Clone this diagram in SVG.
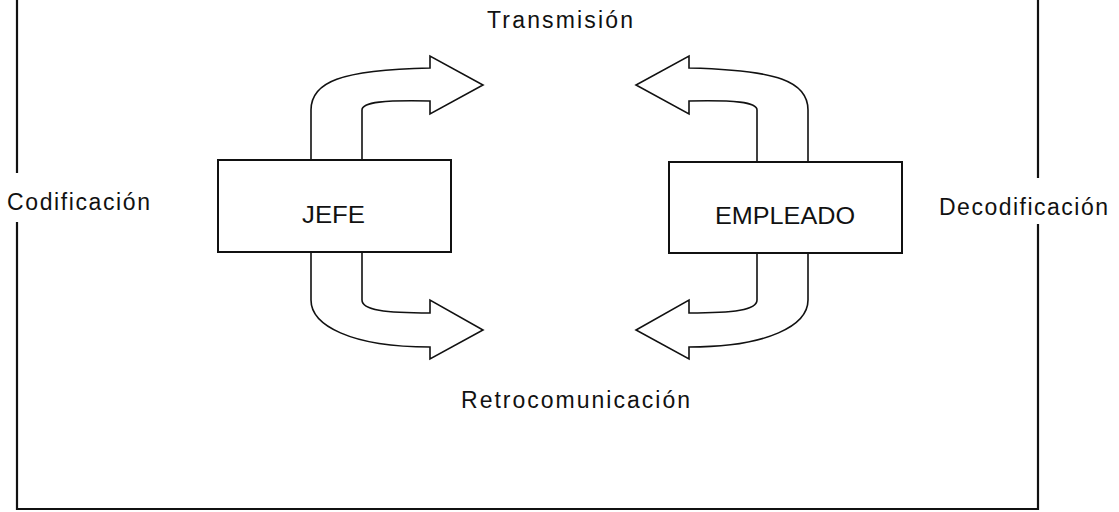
<svg xmlns="http://www.w3.org/2000/svg" width="1119" height="512" viewBox="0 0 1119 512">
<style>
.frame{fill:none;stroke:#111;stroke-width:2.2}
.arrow{fill:#fff;stroke:#111;stroke-width:1.6;stroke-linejoin:miter}
.box{fill:#fff;stroke:#111;stroke-width:2}
.lbl{font-family:"Liberation Sans",Arial,sans-serif;font-size:23px;fill:#111}
</style>
<rect width="1119" height="512" fill="#fff"/>
<g id="frame">
<path class="frame" d="M17,0 V173 M17,222 V509 H1038 V224 M1038,178 V0"/>
</g>
<g id="connectors">
<g id="arrows-jefe">
<path class="arrow" d="M311,160 V110 C311,82 340,70 430,68 V56 L483,85 L430,114 V101 C385,100 362,102 362,110 V160 Z"/>
<path class="arrow" d="M311,252 V300 C311,325 350,347 430,347 V359 L483,330 L430,300 V313 C385,313 362,310 362,300 V252 Z"/>
</g>
<g id="arrows-empleado" transform="translate(1119,0) scale(-1,1)">
<path class="arrow" d="M311,162 V110 C311,82 340,70 430,68 V56 L483,85 L430,114 V101 C385,100 362,102 362,110 V162 Z"/>
<path class="arrow" d="M311,253 V300 C311,325 350,347 430,347 V359 L483,330 L430,300 V313 C385,313 362,310 362,300 V253 Z"/>
</g>
</g>
<g id="jefe">
<rect class="box" x="218" y="160" width="233" height="92"/>
<text class="lbl" x="302" y="223" textLength="63" lengthAdjust="spacingAndGlyphs">JEFE</text>
</g>
<g id="empleado">
<rect class="box" x="669" y="162" width="233" height="91"/>
<text class="lbl" x="715" y="224" textLength="140" lengthAdjust="spacingAndGlyphs">EMPLEADO</text>
</g>
<g id="transmision">
<text class="lbl" x="487" y="28" textLength="146">Transmisión</text>
</g>
<g id="retrocomunicacion">
<text class="lbl" x="461" y="408" textLength="229">Retrocomunicación</text>
</g>
<g id="codificacion">
<text class="lbl" x="7" y="210" textLength="143">Codificación</text>
</g>
<g id="decodificacion">
<text class="lbl" x="939" y="215" textLength="169">Decodificación</text>
</g>
</svg>
